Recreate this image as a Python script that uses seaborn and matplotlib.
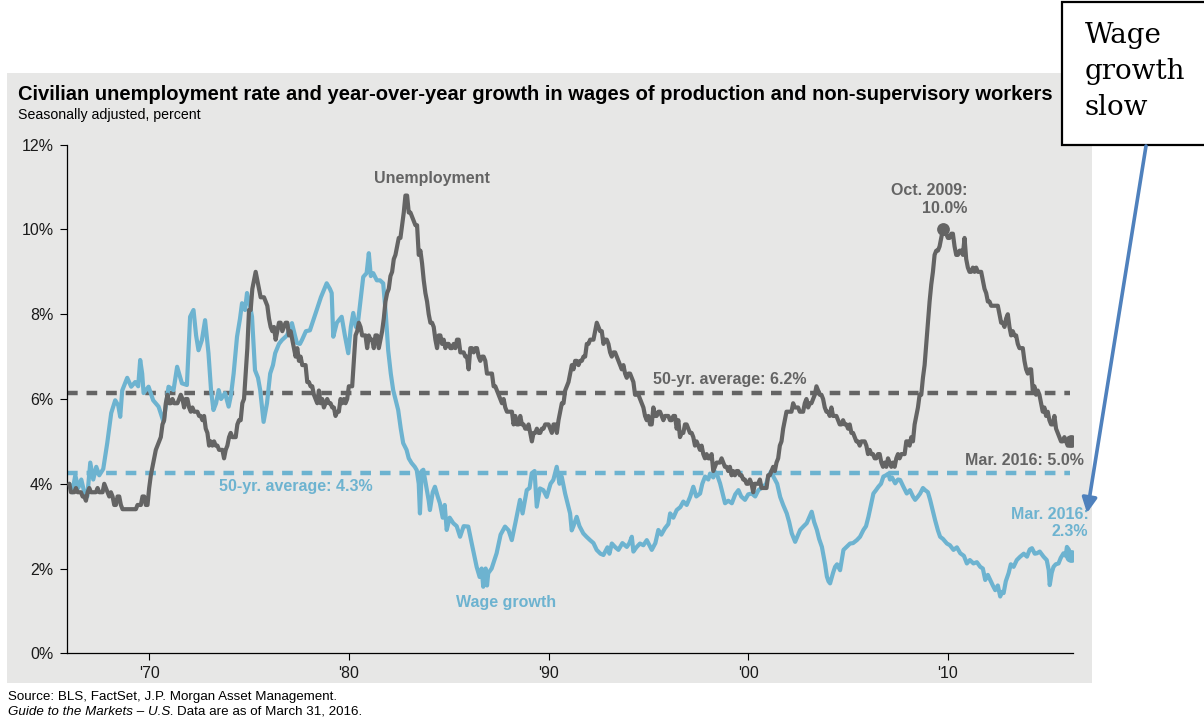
import numpy as np
import pandas as pd
import matplotlib
matplotlib.use("Agg")
import matplotlib.pyplot as plt
import seaborn as sns
from matplotlib.patches import Rectangle, FancyArrowPatch

# ---------------- data ----------------
unemp_start_year = 1966
unemp_rate = [
    4.0, 3.8, 3.8, 3.8, 3.9, 3.8, 3.8, 3.8, 3.7, 3.7, 3.6, 3.8,   # 1966
    3.9, 3.8, 3.8, 3.8, 3.8, 3.9, 3.8, 3.8, 3.8, 4.0, 3.9, 3.8,   # 1967
    3.7, 3.8, 3.7, 3.5, 3.5, 3.7, 3.7, 3.5, 3.4, 3.4, 3.4, 3.4,   # 1968
    3.4, 3.4, 3.4, 3.4, 3.4, 3.5, 3.5, 3.5, 3.7, 3.7, 3.5, 3.5,   # 1969
    3.9, 4.2, 4.4, 4.6, 4.8, 4.9, 5.0, 5.1, 5.4, 5.5, 5.9, 6.1,   # 1970
    5.9, 5.9, 6.0, 5.9, 5.9, 5.9, 6.0, 6.1, 6.0, 5.8, 6.0, 6.0,   # 1971
    5.8, 5.7, 5.8, 5.7, 5.7, 5.7, 5.6, 5.6, 5.5, 5.6, 5.3, 5.2,   # 1972
    4.9, 5.0, 4.9, 5.0, 4.9, 4.9, 4.8, 4.8, 4.8, 4.6, 4.8, 4.9,   # 1973
    5.1, 5.2, 5.1, 5.1, 5.1, 5.4, 5.5, 5.5, 5.9, 6.0, 6.6, 7.2,   # 1974
    8.1, 8.1, 8.6, 8.8, 9.0, 8.8, 8.6, 8.4, 8.4, 8.4, 8.3, 8.2,   # 1975
    7.9, 7.7, 7.6, 7.7, 7.4, 7.6, 7.8, 7.8, 7.6, 7.7, 7.8, 7.8,   # 1976
    7.5, 7.6, 7.4, 7.2, 7.0, 7.2, 6.9, 7.0, 6.8, 6.8, 6.8, 6.4,   # 1977
    6.4, 6.3, 6.3, 6.1, 6.0, 5.9, 6.2, 5.9, 6.0, 5.8, 5.9, 6.0,   # 1978
    5.9, 5.9, 5.8, 5.8, 5.6, 5.7, 5.7, 6.0, 5.9, 6.0, 5.9, 6.0,   # 1979
    6.3, 6.3, 6.3, 6.9, 7.5, 7.6, 7.8, 7.7, 7.5, 7.5, 7.5, 7.2,   # 1980
    7.5, 7.4, 7.4, 7.2, 7.5, 7.5, 7.2, 7.4, 7.6, 7.9, 8.3, 8.5,   # 1981
    8.6, 8.9, 9.0, 9.3, 9.4, 9.6, 9.8, 9.8, 10.1, 10.4, 10.8, 10.8,  # 1982
    10.4, 10.4, 10.3, 10.2, 10.1, 10.1, 9.4, 9.5, 9.2, 8.8, 8.5, 8.3,  # 1983
    8.0, 7.8, 7.8, 7.7, 7.4, 7.2, 7.5, 7.5, 7.3, 7.4, 7.2, 7.3,   # 1984
    7.3, 7.2, 7.2, 7.3, 7.2, 7.4, 7.4, 7.1, 7.1, 7.1, 7.0, 7.0,   # 1985
    6.7, 7.2, 7.2, 7.1, 7.2, 7.2, 7.0, 6.9, 7.0, 7.0, 6.9, 6.6,   # 1986
    6.6, 6.6, 6.6, 6.3, 6.3, 6.2, 6.1, 6.0, 5.9, 6.0, 5.8, 5.7,   # 1987
    5.7, 5.7, 5.7, 5.4, 5.6, 5.4, 5.4, 5.6, 5.4, 5.4, 5.3, 5.3,   # 1988
    5.4, 5.2, 5.0, 5.2, 5.2, 5.3, 5.2, 5.2, 5.3, 5.3, 5.4, 5.4,   # 1989
    5.4, 5.3, 5.2, 5.4, 5.4, 5.2, 5.5, 5.7, 5.9, 5.9, 6.2, 6.3,   # 1990
    6.4, 6.6, 6.8, 6.7, 6.9, 6.9, 6.8, 6.9, 6.9, 7.0, 7.0, 7.3,   # 1991
    7.3, 7.4, 7.4, 7.4, 7.6, 7.8, 7.7, 7.6, 7.6, 7.3, 7.4, 7.4,   # 1992
    7.3, 7.1, 7.0, 7.1, 7.1, 7.0, 6.9, 6.8, 6.7, 6.8, 6.6, 6.5,   # 1993
    6.6, 6.6, 6.5, 6.4, 6.1, 6.1, 6.1, 6.0, 5.9, 5.8, 5.6, 5.5,   # 1994
    5.6, 5.4, 5.4, 5.8, 5.6, 5.6, 5.7, 5.7, 5.6, 5.5, 5.6, 5.6,   # 1995
    5.6, 5.5, 5.5, 5.6, 5.6, 5.3, 5.5, 5.1, 5.2, 5.2, 5.4, 5.4,   # 1996
    5.3, 5.2, 5.2, 5.1, 4.9, 5.0, 4.9, 4.8, 4.9, 4.7, 4.6, 4.7,   # 1997
    4.6, 4.6, 4.7, 4.3, 4.4, 4.5, 4.5, 4.5, 4.6, 4.5, 4.4, 4.4,   # 1998
    4.3, 4.4, 4.2, 4.3, 4.2, 4.3, 4.3, 4.2, 4.2, 4.1, 4.1, 4.0,   # 1999
    4.0, 4.1, 4.0, 3.8, 4.0, 4.0, 4.0, 4.1, 3.9, 3.9, 3.9, 3.9,   # 2000
    4.2, 4.2, 4.3, 4.4, 4.3, 4.5, 4.6, 4.9, 5.0, 5.3, 5.5, 5.7,   # 2001
    5.7, 5.7, 5.7, 5.9, 5.8, 5.8, 5.8, 5.7, 5.7, 5.7, 5.9, 6.0,   # 2002
    5.8, 5.9, 5.9, 6.0, 6.1, 6.3, 6.2, 6.1, 6.1, 6.0, 5.8, 5.7,   # 2003
    5.7, 5.6, 5.8, 5.6, 5.6, 5.6, 5.5, 5.4, 5.4, 5.5, 5.4, 5.4,   # 2004
    5.3, 5.4, 5.2, 5.2, 5.1, 5.0, 5.0, 4.9, 5.0, 5.0, 5.0, 4.9,   # 2005
    4.7, 4.8, 4.7, 4.7, 4.6, 4.6, 4.7, 4.7, 4.5, 4.4, 4.5, 4.4,   # 2006
    4.6, 4.5, 4.4, 4.5, 4.4, 4.6, 4.7, 4.6, 4.7, 4.7, 4.7, 5.0,   # 2007
    5.0, 4.9, 5.1, 5.0, 5.4, 5.6, 5.8, 6.1, 6.1, 6.5, 6.8, 7.3,   # 2008
    7.8, 8.3, 8.7, 9.0, 9.4, 9.5, 9.5, 9.6, 9.8, 10.0, 9.9, 9.9,  # 2009
    9.8, 9.8, 9.9, 9.9, 9.6, 9.4, 9.4, 9.5, 9.5, 9.4, 9.8, 9.3,   # 2010
    9.1, 9.0, 9.0, 9.1, 9.0, 9.1, 9.0, 9.0, 9.0, 8.8, 8.6, 8.5,   # 2011
    8.3, 8.3, 8.2, 8.2, 8.2, 8.2, 8.2, 8.0, 7.8, 7.8, 7.7, 7.9,   # 2012
    8.0, 7.7, 7.5, 7.6, 7.5, 7.5, 7.3, 7.2, 7.2, 7.2, 6.9, 6.7,   # 2013
    6.6, 6.7, 6.7, 6.2, 6.3, 6.1, 6.2, 6.1, 5.9, 5.7, 5.8, 5.6,   # 2014
    5.7, 5.5, 5.4, 5.4, 5.6, 5.3, 5.2, 5.1, 5.0, 5.0, 5.1, 5.0,   # 2015
    4.9, 4.9, 5.0,                                                # 2016
]

wage_years = [
    1966.00, 1966.15, 1966.30, 1966.45, 1966.60, 1966.75, 1966.90, 1967.05, 1967.20, 1967.35,
    1967.50, 1967.70, 1967.90, 1968.10, 1968.30, 1968.45, 1968.55, 1968.65, 1968.90, 1969.10,
    1969.30, 1969.45, 1969.55, 1969.65, 1969.72, 1969.97, 1970.20, 1970.47, 1970.72, 1970.85,
    1970.97, 1971.22, 1971.40, 1971.50, 1971.64, 1971.89, 1972.05, 1972.22, 1972.35, 1972.47,
    1972.64, 1972.80, 1972.97, 1973.10, 1973.22, 1973.35, 1973.48, 1973.60, 1973.80, 1973.98,
    1974.10, 1974.23, 1974.40, 1974.55, 1974.65, 1974.80, 1974.90, 1975.05, 1975.15, 1975.30,
    1975.45, 1975.56, 1975.73, 1975.90, 1976.06, 1976.20, 1976.31, 1976.50, 1976.65, 1976.90,
    1977.15, 1977.30, 1977.40, 1977.55, 1977.65, 1977.85, 1978.05, 1978.25, 1978.39, 1978.60,
    1978.89, 1979.05, 1979.14, 1979.22, 1979.40, 1979.64, 1979.80, 1979.97, 1980.10, 1980.22,
    1980.35, 1980.47, 1980.60, 1980.72, 1980.89, 1981.00, 1981.10, 1981.22, 1981.40, 1981.56,
    1981.72, 1981.85, 1981.97, 1982.10, 1982.22, 1982.47, 1982.60, 1982.72, 1982.89, 1983.00,
    1983.14, 1983.30, 1983.40, 1983.50, 1983.56, 1983.65, 1983.73, 1983.85, 1984.00, 1984.06,
    1984.20, 1984.31, 1984.45, 1984.56, 1984.70, 1984.80, 1984.90, 1985.05, 1985.23, 1985.40,
    1985.57, 1985.75, 1985.98, 1986.15, 1986.40, 1986.55, 1986.65, 1986.73, 1986.85, 1986.92,
    1986.98, 1987.15, 1987.40, 1987.60, 1987.82, 1988.00, 1988.16, 1988.35, 1988.57, 1988.70,
    1988.91, 1989.05, 1989.16, 1989.30, 1989.41, 1989.57, 1989.74, 1989.91, 1990.10, 1990.24,
    1990.41, 1990.55, 1990.66, 1990.83, 1991.08, 1991.16, 1991.24, 1991.41, 1991.55, 1991.74,
    1991.90, 1992.08, 1992.25, 1992.41, 1992.60, 1992.75, 1992.95, 1993.05, 1993.17, 1993.35,
    1993.50, 1993.70, 1993.92, 1994.05, 1994.17, 1994.25, 1994.40, 1994.58, 1994.75, 1994.92,
    1995.05, 1995.17, 1995.35, 1995.50, 1995.65, 1995.83, 1996.00, 1996.09, 1996.25, 1996.42,
    1996.60, 1996.75, 1996.92, 1997.09, 1997.25, 1997.40, 1997.59, 1997.70, 1997.84, 1998.00,
    1998.09, 1998.25, 1998.34, 1998.45, 1998.59, 1998.70, 1998.84, 1999.00, 1999.18, 1999.35,
    1999.51, 1999.65, 1999.84, 2000.00, 2000.18, 2000.35, 2000.51, 2000.76, 2000.90, 2001.01,
    2001.15, 2001.26, 2001.45, 2001.60, 2001.75, 2001.93, 2002.05, 2002.18, 2002.35, 2002.60,
    2002.78, 2002.93, 2003.05, 2003.18, 2003.30, 2003.44, 2003.55, 2003.69, 2003.85, 2003.94,
    2004.02, 2004.10, 2004.25, 2004.35, 2004.45, 2004.60, 2004.77, 2004.90, 2005.10, 2005.25,
    2005.44, 2005.60, 2005.77, 2005.90, 2006.02, 2006.15, 2006.27, 2006.40, 2006.52, 2006.65,
    2006.77, 2006.90, 2007.02, 2007.10, 2007.20, 2007.36, 2007.50, 2007.61, 2007.75, 2007.94,
    2008.10, 2008.25, 2008.36, 2008.50, 2008.61, 2008.75, 2008.86, 2009.00, 2009.11, 2009.25,
    2009.36, 2009.50, 2009.61, 2009.75, 2009.95, 2010.10, 2010.28, 2010.45, 2010.62, 2010.80,
    2010.95, 2011.10, 2011.28, 2011.45, 2011.62, 2011.75, 2011.87, 2012.00, 2012.12, 2012.25,
    2012.37, 2012.50, 2012.62, 2012.70, 2012.79, 2012.90, 2013.04, 2013.15, 2013.29, 2013.45,
    2013.62, 2013.80, 2013.96, 2014.10, 2014.21, 2014.35, 2014.46, 2014.60, 2014.79, 2014.95,
    2015.05, 2015.10, 2015.20, 2015.29, 2015.40, 2015.54, 2015.65, 2015.79, 2015.90, 2015.96,
    2016.05, 2016.12, 2016.17,
]
wage_growth = [
    4.0, 3.8, 4.2, 3.9, 4.1, 3.8, 3.7, 4.5, 4.1, 4.4,
    4.2, 4.35, 4.96, 5.67, 5.97, 5.85, 5.58, 6.2, 6.5, 6.29,
    6.4, 6.3, 6.92, 6.6, 6.14, 6.29, 5.97, 5.82, 5.46, 5.9,
    6.29, 6.21, 6.76, 6.6, 6.37, 6.33, 7.94, 8.1, 7.5, 7.15,
    7.39, 7.86, 7.08, 6.2, 5.74, 5.9, 6.21, 6.0, 6.14, 5.82,
    6.1, 6.6, 7.47, 7.9, 8.26, 8.1, 8.5, 8.2, 7.94, 6.68,
    6.5, 6.21, 5.46, 5.9, 6.6, 6.8, 7.08, 7.3, 7.39, 7.5,
    7.79, 7.5, 7.32, 7.3, 7.39, 7.6, 7.62, 7.9, 8.1, 8.4,
    8.73, 8.6, 8.5, 7.47, 7.8, 7.94, 7.5, 7.08, 7.7, 8.03,
    7.7, 7.86, 8.4, 8.88, 8.97, 9.44, 8.9, 8.97, 8.8, 8.8,
    8.73, 8.0, 7.15, 6.6, 6.21, 5.74, 5.3, 4.96, 4.8, 4.6,
    4.49, 4.4, 4.32, 4.0, 3.3, 4.3, 4.33, 4.0, 3.6, 3.38,
    3.8, 3.93, 3.7, 3.54, 3.2, 3.5, 2.91, 3.2, 3.07, 3.0,
    2.75, 3.0, 2.99, 2.6, 2.04, 1.8, 2.0, 1.57, 2.0, 1.6,
    1.89, 2.0, 2.36, 2.8, 2.99, 2.9, 2.67, 3.1, 3.62, 3.3,
    3.85, 3.9, 4.25, 4.3, 3.46, 3.89, 3.85, 3.69, 4.0, 4.09,
    4.4, 4.0, 4.17, 3.77, 3.3, 2.9, 2.99, 3.22, 3.0, 2.83,
    2.75, 2.67, 2.6, 2.44, 2.35, 2.32, 2.5, 2.35, 2.59, 2.5,
    2.44, 2.6, 2.51, 2.6, 2.75, 2.4, 2.5, 2.59, 2.55, 2.67,
    2.55, 2.44, 2.6, 2.91, 2.8, 2.95, 3.05, 3.3, 3.2, 3.38,
    3.45, 3.58, 3.5, 3.69, 3.93, 3.7, 3.77, 4.0, 4.17, 4.1,
    4.24, 4.15, 4.28, 4.2, 4.01, 3.8, 3.54, 3.6, 3.54, 3.75,
    3.85, 3.7, 3.62, 3.75, 3.77, 3.7, 3.85, 3.93, 4.0, 4.17,
    4.3, 4.17, 4.0, 3.69, 3.5, 3.3, 3.1, 2.83, 2.63, 2.91,
    3.0, 3.07, 3.2, 3.34, 3.1, 2.91, 2.7, 2.51, 2.1, 1.81,
    1.7, 1.65, 1.9, 2.04, 2.1, 1.96, 2.44, 2.5, 2.59, 2.6,
    2.67, 2.75, 2.91, 3.0, 3.22, 3.5, 3.77, 3.85, 3.93, 4.0,
    4.17, 4.2, 4.24, 4.1, 4.15, 4.01, 4.1, 4.09, 3.95, 3.77,
    3.85, 3.7, 3.62, 3.7, 3.77, 3.9, 3.85, 3.8, 3.62, 3.35,
    3.14, 2.9, 2.75, 2.7, 2.59, 2.55, 2.44, 2.5, 2.36, 2.3,
    2.12, 2.2, 2.12, 2.15, 2.04, 2.0, 1.73, 1.85, 1.73, 1.6,
    1.49, 1.6, 1.34, 1.45, 1.42, 1.7, 1.89, 2.1, 2.04, 2.2,
    2.28, 2.35, 2.28, 2.45, 2.48, 2.35, 2.36, 2.4, 2.28, 2.2,
    1.96, 1.61, 1.9, 2.04, 2.1, 2.12, 2.25, 2.36, 2.3, 2.51,
    2.45, 2.36, 2.3,
]

avg_unemp_level = 6.15
avg_wage_level = 4.26
peak_point = (2009.75, 10.0)
last_unemp = (2016.17, 5.0)
last_wage = (2016.17, 2.3)

x_ticks = [1970, 1980, 1990, 2000, 2010]
x_tick_labels = ["'70", "'80", "'90", "'00", "'10"]
y_ticks = [0, 2, 4, 6, 8, 10, 12]
y_tick_labels = ["0%", "2%", "4%", "6%", "8%", "10%", "12%"]

# ---------------- style ----------------
sns.set_theme(style="ticks")
plt.rcParams['font.family'] = ['Liberation Sans', 'DejaVu Sans']

GRAY = '#646464'
BLUE = '#6DB3D0'
PANEL = '#E7E7E6'
ARROW = '#4F81BD'

W, H = 1204, 719
fig = plt.figure(figsize=(W / 100, H / 100), dpi=100)
fig.patch.set_facecolor('white')

# gray panel (behind the axes)
fig.patches.append(Rectangle((7 / W, 1 - 683 / H), (1092 - 7) / W, (683 - 73) / H,
                             transform=fig.transFigure, facecolor=PANEL,
                             edgecolor='none', zorder=-5))

ax = fig.add_axes([67.3 / W, 1 - 653.3 / H, (1073.3 - 67.3) / W, (653.3 - 144.7) / H])
ax.set_facecolor('none')
ax.set_zorder(1)

df_u = pd.DataFrame({'year': unemp_start_year + np.arange(len(unemp_rate)) / 12.0,
                     'rate': unemp_rate})
df_w = pd.DataFrame({'year': wage_years, 'rate': wage_growth})

x0, x1 = 1965.9, 2016.28
dash_end = 2016.1
ax.hlines(avg_unemp_level, x0, dash_end, colors=GRAY, lw=3.2,
          linestyles=(0, (2.4, 2.0)), zorder=1)
ax.hlines(avg_wage_level, x0, dash_end, colors=BLUE, lw=3.2,
          linestyles=(0, (2.4, 2.0)), zorder=1)

sns.lineplot(data=df_w, x='year', y='rate', ax=ax, color=BLUE, lw=3.0,
             estimator=None, sort=False, zorder=2)
sns.lineplot(data=df_u, x='year', y='rate', ax=ax, color=GRAY, lw=3.0,
             estimator=None, sort=False, zorder=3)

ax.scatter([peak_point[0], last_unemp[0]], [peak_point[1], last_unemp[1]],
           s=85, color=GRAY, zorder=4, linewidths=0)
ax.scatter([last_wage[0]], [last_wage[1]], s=85, color=BLUE, zorder=4, linewidths=0)

ax.set_xlim(x0, x1)
ax.set_ylim(0, 12)
ax.set_xticks(x_ticks)
ax.set_xticklabels(x_tick_labels)
ax.set_yticks(y_ticks)
ax.set_yticklabels(y_tick_labels)
ax.set_xlabel('')
ax.set_ylabel('')
for s in ['top', 'right']:
    ax.spines[s].set_visible(False)
for s in ['left', 'bottom']:
    ax.spines[s].set_color('black')
    ax.spines[s].set_linewidth(0.9)
ax.tick_params(axis='both', length=5, width=0.8, color='black',
               labelsize=11.5, labelcolor='#1a1a1a')
ax.tick_params(axis='y', pad=5)
ax.tick_params(axis='x', pad=4)

# annotations
fb = dict(fontweight='bold', fontsize=11.5)
ax.text(1984.16, 11.21, 'Unemployment', color=GRAY, ha='center', va='center', **fb)
ax.text(2011.0, 10.71, 'Oct. 2009:\n10.0%', color=GRAY, ha='right', va='center',
        multialignment='right', linespacing=1.2, **fb)
ax.text(1995.24, 6.46, '50-yr. average: 6.2%', color=GRAY, ha='left', va='center', **fb)
ax.text(1973.51, 3.93, '50-yr. average: 4.3%', color=BLUE, ha='left', va='center', **fb)
ax.text(1987.87, 1.2, 'Wage growth', color=BLUE, ha='center', va='center', **fb)
ax.text(2016.83, 4.56, 'Mar. 2016: 5.0%', color=GRAY, ha='right', va='center', **fb)
ax.text(2017.04, 3.07, 'Mar. 2016:\n2.3%', color=BLUE, ha='right', va='center',
        multialignment='right', linespacing=1.2, **fb)

# titles
fig.text(18 / W, 1 - 94 / H,
         'Civilian unemployment rate and year-over-year growth in wages of production and non-supervisory workers',
         fontsize=14.5, fontweight='bold', color='black', ha='left', va='center')
fig.text(18 / W, 1 - 115 / H, 'Seasonally adjusted, percent', fontsize=10.2,
         color='black', ha='left', va='center')

# footer
FS_FOOT = 9.6
fig.text(8 / W, 1 - 697 / H, 'Source: BLS, FactSet, J.P. Morgan Asset Management.',
         fontsize=FS_FOOT, color='black', ha='left', va='center')
t_it = fig.text(8 / W, 1 - 712 / H, 'Guide to the Markets \u2013 U.S.', fontsize=FS_FOOT,
                style='italic', color='black', ha='left', va='center')
fig.canvas.draw()
bb = t_it.get_window_extent(renderer=fig.canvas.get_renderer())
fig.text((bb.x1 + 3) / W, 1 - 712 / H, 'Data are as of March 31, 2016.', fontsize=FS_FOOT,
         color='black', ha='left', va='center')

# call-out box and arrow
box = Rectangle((1062 / W, 1 - 145 / H), (1212 - 1062) / W, (145 - 2) / H,
                transform=fig.transFigure, facecolor='white',
                edgecolor='black', lw=1.6, zorder=5)
fig.patches.append(box)
fig.text(1085 / W, 1 - 71.5 / H, 'Wage\ngrowth\nslow', fontsize=20,
         family=['DejaVu Serif'], color='black', ha='left', va='center',
         linespacing=1.42, zorder=6)
arrow = FancyArrowPatch(posA=(1146, H - 146), posB=(1087, H - 513),
                        transform=None, arrowstyle='-|>', color=ARROW, lw=2.6,
                        mutation_scale=22, shrinkA=0, shrinkB=0, zorder=10)
fig.add_artist(arrow)

fig.savefig('out.png', dpi=100, facecolor='white')
